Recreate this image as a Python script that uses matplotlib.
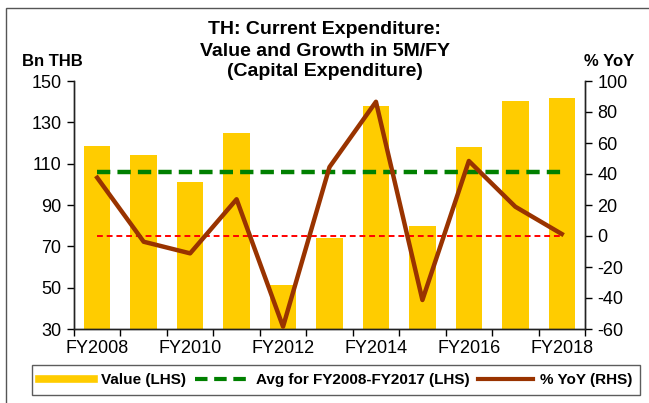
import matplotlib
matplotlib.use("Agg")
import matplotlib.pyplot as plt
from matplotlib.lines import Line2D
from matplotlib.patches import Rectangle
import numpy as np

plt.rcParams['font.family'] = ['Liberation Sans', 'DejaVu Sans']

categories = ["FY2008", "FY2009", "FY2010", "FY2011", "FY2012", "FY2013",
              "FY2014", "FY2015", "FY2016", "FY2017", "FY2018"]
values = [118.5, 114.2, 101.0, 124.7, 51.3, 73.9, 138.0, 80.0, 118.2, 140.3, 142.0]
yoy = [37.6, -3.7, -11.2, 23.7, -58.5, 44.5, 86.6, -41.3, 48.4, 18.9, 1.3]
avg_value = 106.0
left_ticks = [30, 50, 70, 90, 110, 130, 150]
right_ticks = [-60, -40, -20, 0, 20, 40, 60, 80, 100]

BAR = "#FFCC00"
BROWN = "#993300"
GREEN = "#008000"
RED = "#FF0000"

fig = plt.figure(figsize=(6.49, 4.03), dpi=100)
ax = fig.add_axes([74/649, 1-329/403, (585-74)/649, (329-81)/403])
ax2 = ax.twinx()

x = np.arange(len(categories))
ax.bar(x, values, width=0.57, color=BAR, zorder=2)
ax.plot([x[0], x[-1]], [avg_value, avg_value], color=GREEN, lw=3.2,
        dashes=(3, 1.6), zorder=3)
ax2.plot([x[0], x[-1]], [0, 0], color=RED, lw=1.4, dashes=(3, 2), zorder=3)
ax2.plot(x, yoy, color=BROWN, lw=3.2, zorder=4)

ax.set_xlim(-0.5, len(categories) - 0.5)
ax.set_ylim(30, 150)
ax2.set_ylim(-60, 100)
ax.set_yticks(left_ticks)
ax2.set_yticks(right_ticks)
ax.set_yticklabels([str(t) for t in left_ticks], fontsize=13)
ax2.set_yticklabels([str(t) for t in right_ticks], fontsize=13)

ax.set_xticks(np.arange(-0.5, len(categories), 1.0))
ax.set_xticklabels([])
ax.set_xticks(x[::2], minor=True)
ax.set_xticklabels(categories[::2], minor=True, fontsize=13)
ax.tick_params(axis='x', which='major', length=5, width=1, direction='out')
ax.tick_params(axis='x', which='minor', length=0, pad=8)
ax.tick_params(axis='y', length=5, width=1, direction='out', pad=4)
ax2.tick_params(axis='y', length=5, width=1, direction='out', pad=4)

for a in (ax, ax2):
    a.spines['top'].set_visible(False)
    for s in ('left', 'right', 'bottom'):
        a.spines[s].set_linewidth(1.0)
        a.spines[s].set_color('#222222')
ax.set_zorder(ax2.get_zorder() - 1)
ax2.patch.set_visible(False)
ax.patch.set_visible(False)

fig.text(0.5, 1-30/403, "TH: Current Expenditure:", ha='center', va='center',
         fontsize=14, fontweight='bold')
fig.text(0.5, 1-51/403, "Value and Growth in 5M/FY", ha='center', va='center',
         fontsize=14, fontweight='bold')
fig.text(0.5, 1-72/403, "(Capital Expenditure)", ha='center', va='center',
         fontsize=14, fontweight='bold')
fig.text(22/649, 1-62/403, "Bn THB", ha='left', va='center',
         fontsize=12, fontweight='bold')
fig.text(634/649, 1-62/403, "% YoY", ha='right', va='center',
         fontsize=12, fontweight='bold')

# outer frame
fig.add_artist(Rectangle((6/649, -0.1), 1.0, 1-8/403 + 0.1, transform=fig.transFigure,
                         fill=False, edgecolor='#555555', lw=1.0))

handles = [Line2D([0], [0], color=BAR, lw=5.5),
           Line2D([0], [0], color=GREEN, lw=3, dashes=(3, 1.6)),
           Line2D([0], [0], color=BROWN, lw=3)]
labels = ["Value (LHS)", "Avg for FY2008-FY2017 (LHS)", "% YoY (RHS)"]
leg = fig.legend(handles, labels, loc='center',
                 bbox_to_anchor=(336/649, 1-380/403),
                 ncol=3, frameon=True, fancybox=False, handlelength=3.6,
                 handletextpad=0.45, columnspacing=0.55, borderpad=0.5,
                 borderaxespad=0,
                 prop={'weight': 'bold', 'size': 11})
leg.get_frame().set_edgecolor('#333333')
leg.get_frame().set_linewidth(1.0)

fig.savefig("out.png", dpi=100)
